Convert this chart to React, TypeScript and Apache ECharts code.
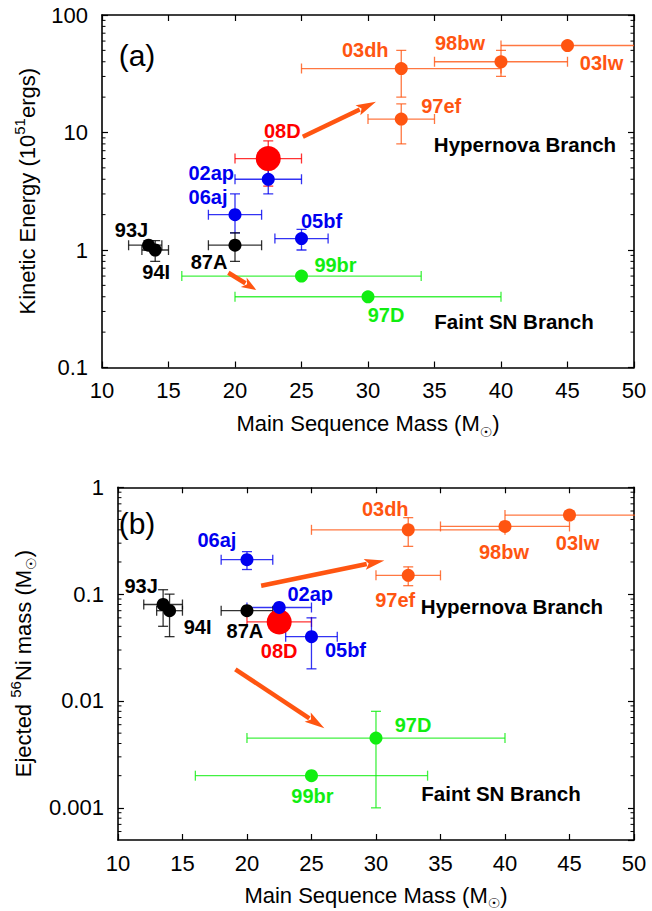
import React, { useEffect, useRef } from 'react';
import * as echarts from 'echarts';

// ---------- data ----------
const snNames = ['03lw', '98bw', '03dh', '97ef', '08D', '02ap', '06aj', '05bf', '87A', '93J', '94I', '99br', '97D'];
const snKind = ['hn', 'hn', 'hn', 'hn', 'sn08D', 'blue', 'blue', 'blue', 'black', 'black', 'black', 'faint', 'faint'];

// Panel (a): kinetic energy (10^51 erg) vs main-sequence mass
const massA = [45, 40, 32.5, 32.5, 22.5, 22.5, 20, 25, 20, 13.5, 14, 25, 30];
const massLoA = [40, 35, 25, 30, 20, 20, 18, 23, 18, 12, 13, 16, 20];
const massHiA = [55, 45, 40, 35, 25, 25, 22, 27, 22, 14.5, 15, 34, 40];
const energy = [55, 40, 35, 13, 6, 4, 2, 1.25, 1.1, 1.1, 1.0, 0.6, 0.4];
const energyLo = [55, 30, 20, 8, 3.5, 3, 1.4, 1.0, 0.8, 1.0, 0.8, 0.6, 0.4];
const energyHi = [55, 50, 50, 17.5, 8.5, 5, 3, 1.5, 1.4, 1.2, 1.2, 0.6, 0.4];

// Panel (b): ejected 56Ni mass (Msun) vs main-sequence mass
const massB = [45, 40, 32.5, 32.5, 22.5, 22.5, 20, 25, 20, 13.5, 14, 25, 30];
const massLoB = [40, 35, 25, 30, 20, 20, 18, 23, 18, 12, 13, 16, 20];
const massHiB = [55, 45, 40, 35, 25, 25, 22, 27, 22, 15, 15, 34, 40];
const nickel = [0.55, 0.43, 0.4, 0.15, 0.055, 0.075, 0.21, 0.04, 0.07, 0.08, 0.07, 0.002, 0.0045];
const nickelLo = [0.5, 0.4, 0.28, 0.12, 0.055, 0.075, 0.17, 0.02, 0.07, 0.05, 0.04, 0.002, 0.001];
const nickelHi = [0.6, 0.47, 0.52, 0.18, 0.055, 0.075, 0.25, 0.06, 0.07, 0.11, 0.1, 0.002, 0.008];

// Branch arrows [x1, y1, x2, y2]
const arrowsA = [[25.1, 9.2, 30.6, 18.3], [19.5, 0.64, 21.6, 0.457]];
const arrowsB = [[21.1, 0.12, 30.65, 0.207], [19.1, 0.0198, 26.0, 0.00556]];

// Axis ticks
const xMin = 10;
const xMax = 50;
const xStep = 5;
const yRangeA = [0.1, 100];
const yRangeB = [0.0005, 1];
const minorTicksA = [0.2, 0.3, 0.4, 0.5, 0.6, 0.7, 0.8, 0.9, 2, 3, 4, 5, 6, 7, 8, 9, 20, 30, 40, 50, 60, 70, 80, 90];
const minorTicksB = [0.0006, 0.0007, 0.0008, 0.0009, 0.002, 0.003, 0.004, 0.005, 0.006, 0.007, 0.008, 0.009,
  0.02, 0.03, 0.04, 0.05, 0.06, 0.07, 0.08, 0.09, 0.2, 0.3, 0.4, 0.5, 0.6, 0.7, 0.8, 0.9];

// ---------- styles / layout ----------
const FONT = '"Liberation Sans", Arial, "DejaVu Sans", sans-serif';
const kindColor: Record<string, string> = {
  hn: '#ff5511',
  sn08D: '#ff0000',
  blue: '#0000f0',
  black: '#000000',
  faint: '#11ee11',
};
const labelOffsetA: Record<string, number[]> = {
  '03lw': [34, 17], '98bw': [-41, -19], '03dh': [-36, -19], '97ef': [40, -13], '08D': [14, -28],
  '02ap': [-57, -6], '06aj': [-27, -18], '05bf': [20, -18], '87A': [-26, 17], '93J': [-17, -15],
  '94I': [1, 22], '99br': [34, -11], '97D': [18, 18],
};
const labelOffsetB: Record<string, number[]> = {
  '03lw': [8, 28], '98bw': [-1, 26], '03dh': [-23, -21], '97ef': [-13, 25], '08D': [0, 29],
  '02ap': [31, -13], '06aj': [-30, -20], '05bf': [34, 13], '87A': [-2, 20], '93J': [-22, -18],
  '94I': [28, 16], '99br': [1, 20], '97D': [37, -13],
};

const richBase = {
  n: { fontSize: 22, fontFamily: FONT, color: '#000', lineHeight: 30 },
  s: { fontSize: 15, fontFamily: FONT, color: '#000', lineHeight: 15, verticalAlign: 'top' },
  sub: { fontSize: 14, fontFamily: FONT, color: '#000', lineHeight: 14, verticalAlign: 'bottom' },
};

function xAxes(gridIndex: number, nameGap: number) {
  const common = {
    type: 'value',
    gridIndex,
    min: xMin,
    max: xMax,
    interval: xStep,
    splitLine: { show: false },
    axisLine: { show: true, onZero: false, lineStyle: { color: '#000', width: 1.6 } },
    axisTick: { show: true, inside: true, length: 6, lineStyle: { color: '#000', width: 1.2 } },
  };
  return [
    {
      ...common,
      position: 'bottom',
      axisLabel: { show: true, fontSize: 22, fontFamily: FONT, color: '#000', margin: 12 },
      name: '{n|Main Sequence Mass (M}{sub|☉}{n|)}',
      nameLocation: 'middle',
      nameGap,
      nameTextStyle: { fontSize: 22, fontFamily: FONT, color: '#000', rich: richBase },
    },
    { ...common, position: 'top', axisLabel: { show: false } },
  ];
}

function yAxes(gridIndex: number, range: number[], name: string, hideMin: boolean) {
  const common = {
    type: 'log',
    logBase: 10,
    gridIndex,
    min: range[0],
    max: range[1],
    splitLine: { show: false },
    minorTick: { show: false },
    axisLine: { show: true, onZero: false, lineStyle: { color: '#000', width: 1.6 } },
    axisTick: { show: true, inside: true, length: 6, lineStyle: { color: '#000', width: 1.2 } },
  };
  return [
    {
      ...common,
      position: 'left',
      axisLabel: {
        show: true, fontSize: 22, fontFamily: FONT, color: '#000', margin: 14,
        showMinLabel: !hideMin, showMaxLabel: true,
      },
      name,
      nameLocation: 'middle',
      nameGap: 60,
      nameRotate: 90,
      nameTextStyle: { fontSize: 22, fontFamily: FONT, color: '#000', rich: richBase },
    },
    { ...common, position: 'right', axisLabel: { show: false } },
  ];
}

function errorSeries(axisIdx: number, mass: number[], lo: number[], hi: number[], v: number[], vlo: number[], vhi: number[]) {
  return {
    type: 'custom',
    xAxisIndex: axisIdx,
    yAxisIndex: axisIdx,
    clip: true,
    z: 2,
    silent: true,
    data: snNames.map((n, i) => ({
      name: n,
      value: [mass[i], v[i], lo[i], hi[i], vlo[i], vhi[i]],
      itemStyle: { color: kindColor[snKind[i]] },
    })),
    renderItem: (params: any, api: any) => {
      const x = api.value(0), y = api.value(1);
      const xl = api.value(2), xh = api.value(3), yl = api.value(4), yh = api.value(5);
      const color = api.visual('color');
      const style = { stroke: color, lineWidth: 1.3, opacity: 0.8 };
      const c = 5;
      const ch: any[] = [];
      if (xh > xl) {
        const a = api.coord([xl, y]);
        const b = api.coord([xh, y]);
        ch.push({ type: 'line', shape: { x1: a[0], y1: a[1], x2: b[0], y2: b[1] }, style });
        ch.push({ type: 'line', shape: { x1: a[0], y1: a[1] - c, x2: a[0], y2: a[1] + c }, style });
        ch.push({ type: 'line', shape: { x1: b[0], y1: b[1] - c, x2: b[0], y2: b[1] + c }, style });
      }
      if (yh > yl) {
        const a = api.coord([x, yl]);
        const b = api.coord([x, yh]);
        ch.push({ type: 'line', shape: { x1: a[0], y1: a[1], x2: b[0], y2: b[1] }, style });
        ch.push({ type: 'line', shape: { x1: a[0] - c, y1: a[1], x2: a[0] + c, y2: a[1] }, style });
        ch.push({ type: 'line', shape: { x1: b[0] - c, y1: b[1], x2: b[0] + c, y2: b[1] }, style });
      }
      return { type: 'group', children: ch };
    },
  };
}

function pointSeries(axisIdx: number, mass: number[], v: number[], offsets: Record<string, number[]>) {
  return {
    type: 'scatter',
    xAxisIndex: axisIdx,
    yAxisIndex: axisIdx,
    z: 3,
    silent: true,
    data: snNames.map((n, i) => {
      const col = kindColor[snKind[i]];
      return {
        name: n,
        value: [mass[i], v[i]],
        symbolSize: snKind[i] === 'sn08D' ? 25 : 13,
        itemStyle: { color: col, opacity: 1 },
        label: { offset: offsets[n], color: col },
      };
    }),
    symbol: 'circle',
    label: {
      show: true,
      position: 'inside',
      formatter: '{b}',
      fontSize: 20,
      fontWeight: 'bold',
      fontFamily: FONT,
    },
  };
}

function arrowSeries(axisIdx: number, arrows: number[][]) {
  return {
    type: 'custom',
    xAxisIndex: axisIdx,
    yAxisIndex: axisIdx,
    z: 4,
    silent: true,
    data: arrows,
    renderItem: (params: any, api: any) => {
      const p1 = api.coord([api.value(0), api.value(1)]);
      const p2 = api.coord([api.value(2), api.value(3)]);
      const dx = p2[0] - p1[0], dy = p2[1] - p1[1];
      const len = Math.sqrt(dx * dx + dy * dy);
      const ux = dx / len, uy = dy / len;
      const hl = Math.min(20, len * 0.45);
      const hw = 5.5;
      const bx = p2[0] - ux * hl, by = p2[1] - uy * hl;
      const col = '#ff5511';
      return {
        type: 'group',
        children: [
          { type: 'line', shape: { x1: p1[0], y1: p1[1], x2: bx + ux * 2, y2: by + uy * 2 }, style: { stroke: col, lineWidth: 4.5 } },
          {
            type: 'polygon',
            shape: { points: [[p2[0], p2[1]], [bx - uy * hw, by + ux * hw], [bx + ux * 4, by + uy * 4], [bx + uy * hw, by - ux * hw]] },
            style: { fill: col },
          },
        ],
      };
    },
  };
}

function minorTickSeries(axisIdx: number, ticks: number[]) {
  return {
    type: 'custom',
    xAxisIndex: axisIdx,
    yAxisIndex: axisIdx,
    z: 5,
    silent: true,
    data: ticks.map((t) => [xMin, t]),
    renderItem: (params: any, api: any) => {
      const cs = params.coordSys;
      const y = api.coord([xMin, api.value(1)])[1];
      const style = { stroke: '#000', lineWidth: 1 };
      return {
        type: 'group',
        children: [
          { type: 'line', shape: { x1: cs.x, y1: y, x2: cs.x + 3.5, y2: y }, style },
          { type: 'line', shape: { x1: cs.x + cs.width - 3.5, y1: y, x2: cs.x + cs.width, y2: y }, style },
        ],
      };
    },
  };
}

function textEl(text: string, x: number, y: number, size: number, bold: boolean) {
  return {
    type: 'text',
    x,
    y,
    style: {
      text,
      fill: '#000',
      font: `${bold ? 'bold ' : ''}${size}px ${FONT}`,
      align: 'center',
      verticalAlign: 'middle',
    },
    z: 10,
  };
}

export default function App() {
  const ref = useRef<HTMLDivElement>(null);
  useEffect(() => {
    if (!ref.current) return;
    const chart = echarts.init(ref.current, null, { renderer: 'svg' });
    const option: any = {
      animation: false,
      backgroundColor: '#fff',
      grid: [
        { left: 102, top: 15, width: 532, height: 352.5 },
        { left: 102, top: 487.3, width: 532, height: 353.7 },
      ],
      xAxis: [...xAxes(0, 41), ...xAxes(1, 40)],
      yAxis: [
        ...yAxes(0, yRangeA, '{n|Kinetic Energy (10}{s|51}{n|ergs)}', false),
        ...yAxes(1, yRangeB, '{n|Ejected }{s|56}{n|Ni mass (M}{sub|☉}{n|)}', true),
      ],
      series: [
        errorSeries(0, massA, massLoA, massHiA, energy, energyLo, energyHi),
        pointSeries(0, massA, energy, labelOffsetA),
        arrowSeries(0, arrowsA),
        minorTickSeries(0, minorTicksA),
        errorSeries(2, massB, massLoB, massHiB, nickel, nickelLo, nickelHi),
        pointSeries(2, massB, nickel, labelOffsetB),
        arrowSeries(2, arrowsB),
        minorTickSeries(2, minorTicksB),
      ],
      graphic: [
        textEl('(a)', 137, 55, 30, false),
        textEl('(b)', 137, 523, 30, false),
        textEl('Hypernova Branch', 525, 144, 20.5, true),
        textEl('Faint SN Branch', 514, 321, 20.5, true),
        textEl('Hypernova Branch', 512, 606, 20.5, true),
        textEl('Faint SN Branch', 501, 793, 20.5, true),
      ],
    };
    chart.setOption(option);
    return () => chart.dispose();
  }, []);
  return <div ref={ref} style={{ position: 'absolute', left: 0, top: 0, width: 652, height: 911 }} />;
}
